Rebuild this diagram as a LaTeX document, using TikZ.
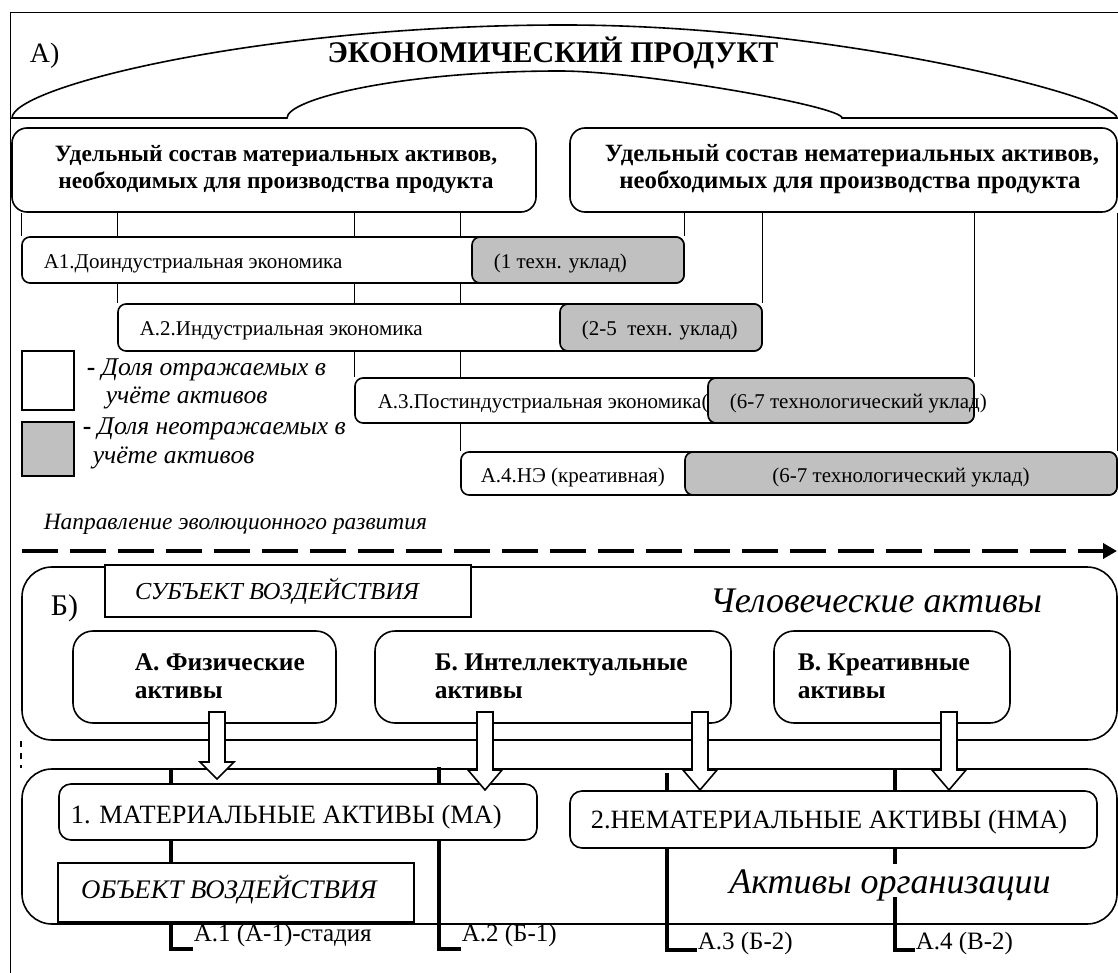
\documentclass[tikz,border=0pt]{standalone}
\usepackage{fontspec}
\setmainfont{Liberation Serif}
\usetikzlibrary{fit,backgrounds,arrows.meta}
\definecolor{shade}{HTML}{C0C0C0}
\newcommand\fs[1]{\fontsize{#1}{#1}\selectfont}
\tikzset{>=Latex,
  panel/.style={draw,fill=white,fit={#1}},
  stage/.style={line width=2.1pt},
  eratext/.style={anchor=base west,font=\fs{10.5}},
  headtext/.style={anchor=base,font=\fs{11.7}\bfseries},
  boldtext/.style={anchor=base west,font=\fs{12.7}\bfseries},
  keytext/.style={anchor=base west,font=\fs{12.8}\itshape},
  plaintext/.style={anchor=base west,font=\fs{12.5}},
  bigit/.style={anchor=base,font=\fs{18}\itshape}}
\newcommand\fatarrow[4]{
    \draw[fill=white] (#1-8,#2) -- (#1+8,#2) -- (#1+8,#3) -- (#1+17,#3) --
        (#1,#4) -- (#1-17,#3) -- (#1-8,#3) -- cycle;
}

\begin{document}
\begin{tikzpicture}[x=0.5pt,y=-0.5pt,line width=0.8pt,
    every node/.style={inner sep=0pt}]
    \useasboundingbox (0,0) rectangle (1118,973);
    \draw[line width=0.5pt] (10,973) -- (10,13) -- (1118,13);
    \draw (12,118) .. controls (12,87) and (259,25) .. (564,25)
        .. controls (840,25) and (1117,98) .. (1117,118) -- (842,118)
        .. controls (842,106) and (640,71) .. (560,71)
        .. controls (400,71) and (287,99) .. (287,118) -- cycle;
    \node[anchor=base,font=\fs{15}\bfseries] (prod) at (553,63) {ЭКОНОМИЧЕСКИЙ ПРОДУКТ};
    \node[anchor=base west,font=\fs{14}] (partA) at (29,63) {А)};
    \node[panel={(12,128) (536,212)},rounded corners=7.5pt] (mat) {};
    \node[headtext] (mat1) at (276,162) {Удельный состав материальных активов,};
    \node[headtext] (mat2) at (276,189) {необходимых для производства продукта};
    \node[panel={(570,128) (1117,212)},rounded corners=7.5pt] (immat) {};
    \node[headtext,font=\fs{12.4}\bfseries] (immat1) at (852,162) {Удельный состав нематериальных активов,};
    \node[headtext,font=\fs{12.4}\bfseries] (immat2) at (850,189) {необходимых для производства продукта};
    \node[panel={(22,237) (684,283)},rounded corners=4pt] (era1) {};
    \node[panel={(472,237) (684,283)},rounded corners=4pt,fill=shade] (era1g) {};
    \node[eratext] (era1t) at (43,269) {А1.Доиндустриальная экономика};
    \node[eratext] (era1gt) at (493,269) {(1 техн. уклад)};
    \node[panel={(118,304) (762,351)},rounded corners=4pt] (era2) {};
    \node[panel={(560,304) (762,351)},rounded corners=4pt,fill=shade] (era2g) {};
    \node[eratext] (era2t) at (139,335) {А.2.Индустриальная экономика};
    \node[eratext] (era2gt) at (581,335) {(2-5~ техн. уклад)};
    \node[panel={(355,378) (974,423)},rounded corners=4pt] (era3) {};
    \node[panel={(708,378) (974,423)},rounded corners=4pt,fill=shade] (era3g) {};
    \node[eratext] (era3t) at (377,408) {А.3.Постиндустриальная экономика(};
    \node[eratext] (era3gt) at (729,408) {(6-7 технологический уклад)};
    \node[panel={(461,452) (1117,495)},rounded corners=4pt] (era4) {};
    \node[panel={(685,452) (1117,495)},rounded corners=4pt,fill=shade] (era4g) {};
    \node[eratext] (era4t) at (480,482) {А.4.НЭ (креативная)};
    \node[eratext,anchor=base] (era4gt) at (901,482) {(6-7 технологический уклад)};
    \begin{scope}[on background layer]
        \draw (mat.south -| era1.west) -- (era1.north west);
        \draw (mat.south -| era2.west) -- (era2.north west);
        \draw (mat.south -| era3.west) -- (era3.north west);
        \draw (mat.south -| era4.west) -- (era4.north west);
        \draw (immat.south -| era1g.east) -- (era1g.north east);
        \draw (immat.south -| era2g.east) -- (era2g.north east);
        \draw (immat.south -| era3g.east) -- (era3g.north east);
        \draw (immat.south -| era4g.east) -- (era4g.north east);
    \end{scope}
    \node[draw,fit={(22,351) (74,410)}] (keyw) {};
    \node[draw,fill=shade,fit={(22,422) (74,476)}] (keyg) {};
    \node[keytext,font=\fs{12.8}] (keyw1) at (86,375) {\textbf{-} \textit{Доля отражаемых в}};
    \node[keytext] (keyw2) at (105,403) {учёте активов};
    \node[keytext,font=\fs{12.8}] (keyg1) at (82,434) {\textbf{-} \textit{Доля неотражаемых в}};
    \node[keytext] (keyg2) at (92,463) {учёте активов};
    \node[anchor=base west,font=\fs{11.7}\itshape] (dir) at (43,529) {Направление эволюционного развития};
    \coordinate (evo0) at (22,551);
    \coordinate (evo1) at (1117,551);
    \draw[line width=2pt,dash pattern=on 18pt off 6pt,
        -{Triangle[length=7pt,width=7.5pt]}] (evo0) -- (evo1);
    \node[draw,fit={(22,567) (1117,740)},rounded corners=15pt] (hum) {};
    \node[panel={(105,565) (471,617)}] (subj) {};
    \node[anchor=base,font=\fs{12.2}\itshape] (subjt) at (277,599) {СУБЪЕКТ ВОЗДЕЙСТВИЯ};
    \node[anchor=base west,font=\fs{15}] (partB) at (50,615) {Б)};
    \node[bigit] (humt) at (876,612) {Человеческие активы};
    \node[panel={(73,631) (336,723)},rounded corners=10pt] (phys) {};
    \node[boldtext] (phys1) at (134,670) {А. Физические};
    \node[boldtext] (phys2) at (134,698) {активы};
    \node[panel={(375,631) (731,723)},rounded corners=10pt] (intel) {};
    \node[boldtext] (intel1) at (434,670) {Б. Интеллектуальные};
    \node[boldtext] (intel2) at (434,698) {активы};
    \node[panel={(774,631) (1010,723)},rounded corners=10pt] (creat) {};
    \node[boldtext] (creat1) at (797,670) {В. Креативные};
    \node[boldtext] (creat2) at (797,698) {активы};
    \node[draw,fit={(22,769) (1117,924)},rounded corners=15pt] (org) {};
    \draw[dashed] (hum.south west) -- (org.north west);
    \node[plaintext] (st1) at (193,941) {А.1 (А-1)-стадия};
    \node[plaintext] (st2) at (461,941) {А.2 (Б-1)};
    \node[plaintext] (st3) at (697,949) {А.3 (Б-2)};
    \node[plaintext] (st4) at (915,949) {А.4 (В-2)};
    \coordinate (st1top) at (171,769);
    \coordinate (st2top) at (439,767);
    \coordinate (st3top) at (667,773);
    \coordinate (st4top) at (895,770);
    \coordinate (st4gap) at (895,864);
    \coordinate (st4low) at (895,897);
    \draw[stage] (st1top) |- (st1.west |- 0,949);
    \draw[stage] (st2top) |- (st2.west |- 0,949);
    \draw[stage] (st3top) |- (st3.west |- 0,950);
    \draw[stage] (st4top) -- (st4gap);
    \draw[stage] (st4low) |- (st4.west |- 0,950);
    \node[panel={(59,784) (537,840)},rounded corners=6pt] (ma) {};
    \node[anchor=base west,font=\fs{13.2}] (mat) at (70,823) {1. МАТЕРИАЛЬНЫЕ АКТИВЫ (МА)};
    \node[panel={(570,791) (1097,848)},rounded corners=6pt] (nma) {};
    \node[anchor=base west,font=\fs{13.2}] (nmat) at (590,828) {2.НЕМАТЕРИАЛЬНЫЕ АКТИВЫ (НМА)};
    \node[panel={(58,863) (414,922)}] (obj) {};
    \node[anchor=base,font=\fs{13.4}\itshape] (objt) at (229,898) {ОБЪЕКТ ВОЗДЕЙСТВИЯ};
    \node[bigit] (orgt) at (890,893) {Активы организации};
    \fatarrow{217}{712}{762}{779}
    \fatarrow{485}{712}{770}{790}
    \fatarrow{700}{712}{770}{790}
    \fatarrow{949}{712}{770}{790}
\end{tikzpicture}
\end{document}
